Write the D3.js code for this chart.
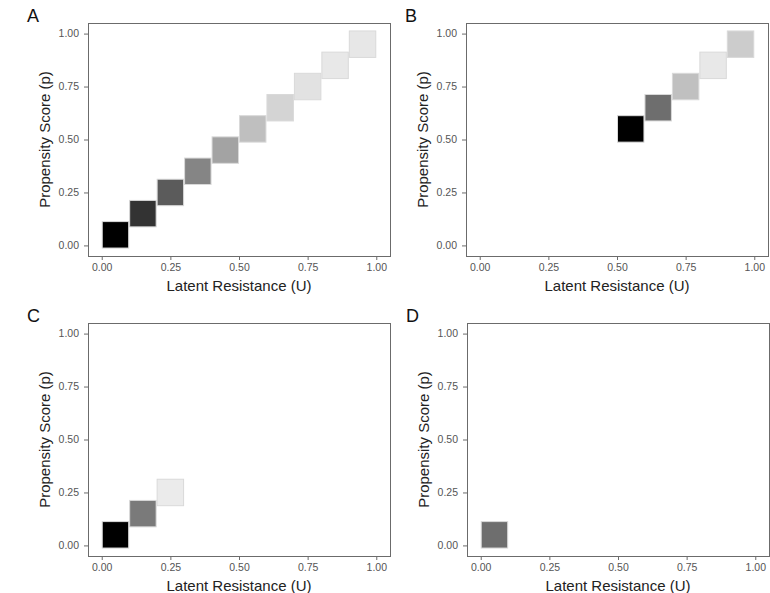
<!DOCTYPE html>
<meta charset="utf-8">
<style>
body { margin: 0; background: #fff; }
* { font-family: "Liberation Sans", Arial, Helvetica, sans-serif; }
.frame { fill: none; stroke: #6b6b6b; stroke-width: 1px; }
.axis path { display: none; }
.axis line { stroke: #6b6b6b; }
.axis text { fill: #555; font-size: 10.5px; }
.tile { stroke: #d9d9d9; stroke-width: 1px; }
</style>
<body>
<script src="https://cdn.jsdelivr.net/npm/d3@7/dist/d3.min.js"></script>
<script>

// panel A: all ten cells
var uA = [0.05, 0.15, 0.25, 0.35, 0.45, 0.55, 0.65, 0.75, 0.85, 0.95];
var pA = [0.05, 0.15, 0.25, 0.35, 0.45, 0.55, 0.65, 0.75, 0.85, 0.95];
var shadeA = ["#000000", "#333333", "#5b5b5b", "#858585", "#a3a3a3",
              "#bfbfbf", "#d4d4d4", "#e2e2e2", "#e8e8e8", "#e7e7e7"];

// panel B
var uB = [0.55, 0.65, 0.75, 0.85, 0.95];
var pB = [0.55, 0.65, 0.75, 0.85, 0.95];
var shadeB = ["#000000", "#6e6e6e", "#c0c0c0", "#e8e8e8", "#cccccc"];

// panel C
var uC = [0.05, 0.15, 0.25];
var pC = [0.05, 0.15, 0.25];
var shadeC = ["#000000", "#7a7a7a", "#ebebeb"];

// panel D
var uD = [0.05];
var pD = [0.05];
var shadeD = ["#6e6e6e"];

var tickValues = [0, 0.25, 0.5, 0.75, 1];
var tickLabels = ["0.00", "0.25", "0.50", "0.75", "1.00"];
var xTitle = "Latent Resistance (U)";
var yTitle = "Propensity Score (p)";

var panels = [
  {label: "A", u: uA, p: pA, shade: shadeA, left: 88,  top: 23},
  {label: "B", u: uB, p: pB, shade: shadeB, left: 466, top: 23},
  {label: "C", u: uC, p: pC, shade: shadeC, left: 88,  top: 323},
  {label: "D", u: uD, p: pD, shade: shadeD, left: 467, top: 323}
];

var pw = 302, ph = 233;

var svg = d3.select("body").append("svg")
    .attr("width", 770)
    .attr("height", 593);

panels.forEach(function(panel) {
  var g = svg.append("g")
      .attr("transform", "translate(" + panel.left + "," + panel.top + ")");

  var x = d3.scaleLinear().domain([-0.05, 1.05]).range([0, pw]);
  var y = d3.scaleLinear().domain([-0.05, 1.05]).range([ph, 0]);

  // squares are the width of one 0.1 cell in u
  var side = x(0.1) - x(0) - 1;

  var cells = panel.u.map(function(u, i) {
    return {u: u, p: panel.p[i], shade: panel.shade[i]};
  });

  g.selectAll(".tile")
      .data(cells)
    .enter().append("rect")
      .attr("class", "tile")
      .attr("x", function(d) { return x(d.u) - side / 2; })
      .attr("y", function(d) { return y(d.p) - side / 2; })
      .attr("width", side)
      .attr("height", side)
      .style("fill", function(d) { return d.shade; });

  g.append("g")
      .attr("class", "axis")
      .attr("transform", "translate(0," + ph + ")")
      .call(d3.axisBottom(x).tickValues(tickValues)
        .tickFormat(function(d, i) { return tickLabels[i]; })
        .tickSize(4).tickPadding(4));

  g.append("g")
      .attr("class", "axis")
      .call(d3.axisLeft(y).tickValues(tickValues)
        .tickFormat(function(d, i) { return tickLabels[i]; })
        .tickSize(4).tickPadding(5));

  g.append("rect")
      .attr("class", "frame")
      .attr("x", 0.5)
      .attr("y", 0.5)
      .attr("width", pw)
      .attr("height", ph);

  g.append("text")
      .attr("text-anchor", "middle")
      .attr("x", pw / 2)
      .attr("y", ph + 34.5)
      .attr("font-size", "15px")
      .attr("fill", "#222")
      .text(xTitle);

  g.append("text")
      .attr("text-anchor", "middle")
      .attr("transform", "translate(-38," + (ph / 2) + ")rotate(-90)")
      .attr("font-size", "15px")
      .attr("fill", "#222")
      .text(yTitle);

  g.append("text")
      .attr("x", -61)
      .attr("y", -1)
      .attr("font-size", "18px")
      .attr("fill", "#111")
      .text(panel.label);
});

</script>
</body>
</html>
